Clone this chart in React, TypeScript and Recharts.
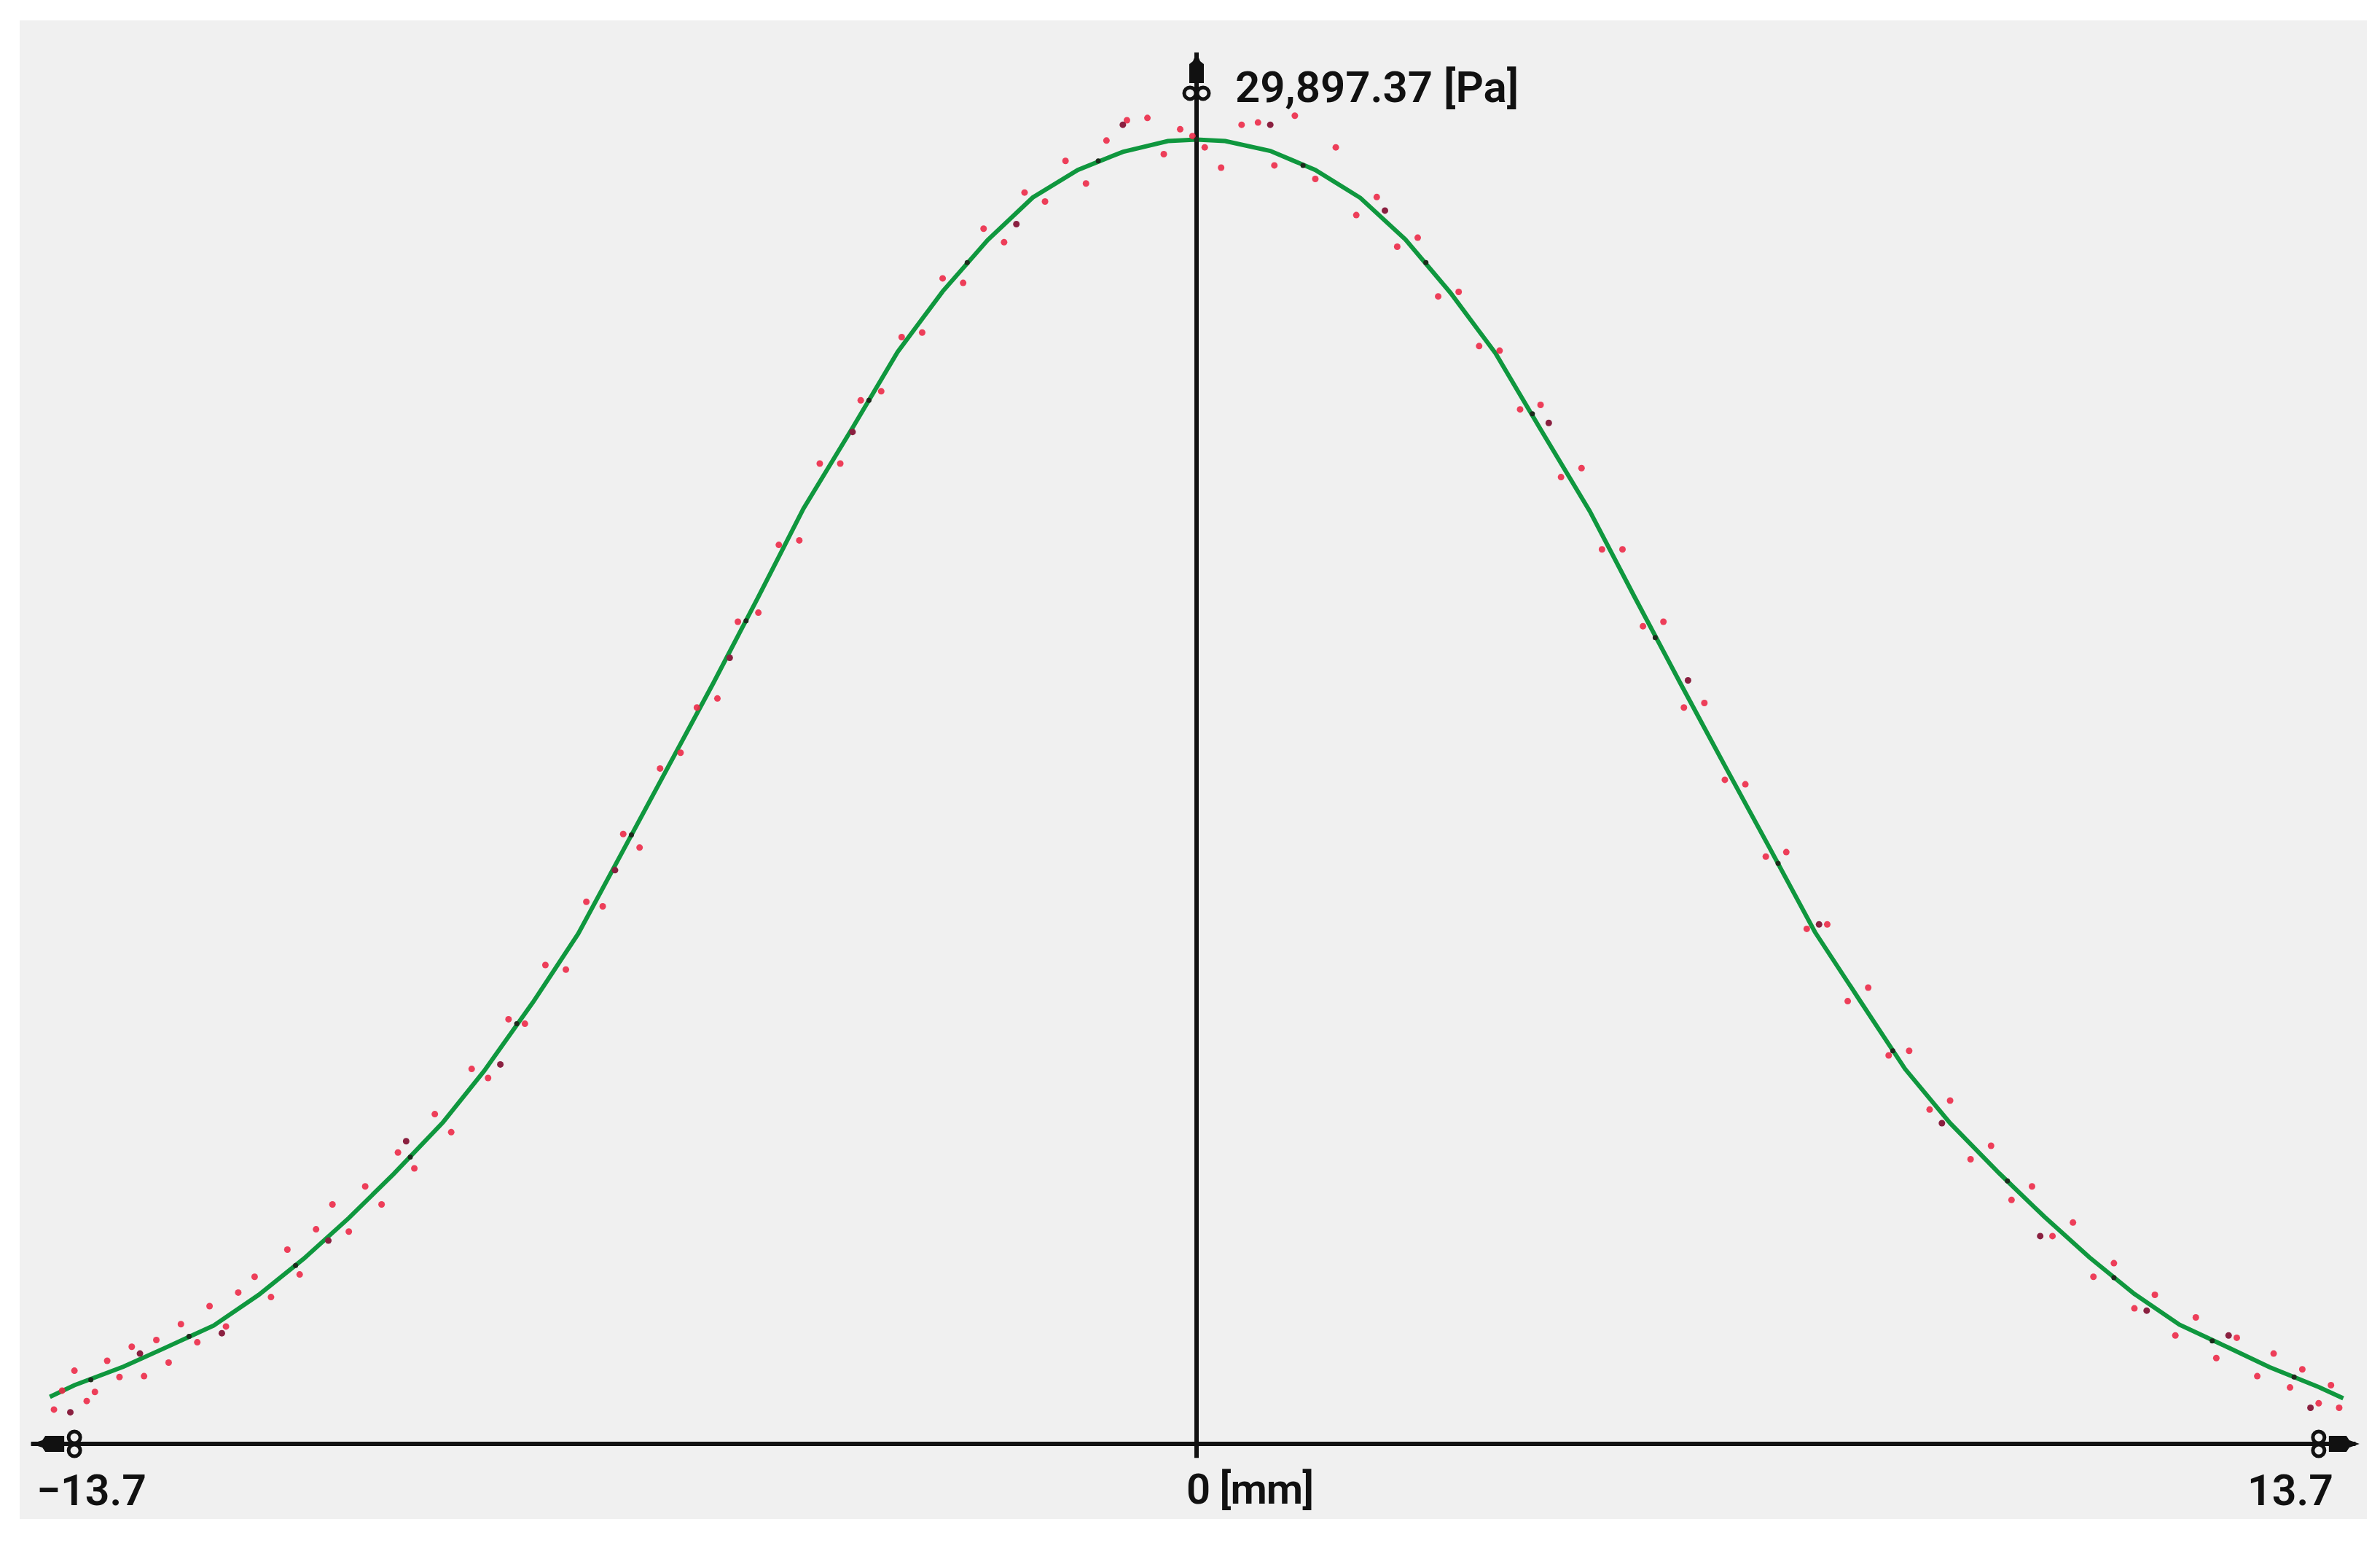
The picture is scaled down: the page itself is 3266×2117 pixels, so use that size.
import React from 'react';
import { ComposedChart, Line, Scatter, XAxis, YAxis, ReferenceLine, ReferenceDot } from 'recharts';

// Pressure profile: x position [mm], pressure [Pa]
const curveX = [
  -14.0, -13.7, -13.1, -12.6, -12.0, -11.45, -10.9, -10.35, -9.8, -9.2, -8.7, -8.1, -7.55, -7.0,
  -6.45, -5.9, -5.35, -4.8, -4.2, -3.65, -3.1, -2.55, -2.0, -1.45, -0.9, -0.35, 0,
  0.35, 0.9, 1.45, 2.0, 2.55, 3.1, 3.65, 4.2, 4.8, 5.35, 5.9, 6.45, 7.0, 7.55, 8.1, 8.65,
  9.2, 9.8, 10.35, 10.9, 11.45, 12.0, 12.6, 13.1, 13.7, 14.0,
];
const curveY = [
  1040, 1300, 1710, 2120, 2620, 3300, 4100, 5000, 5980, 7120, 8250, 9780, 11290, 13140,
  14990, 16840, 18750, 20700, 22490, 24170, 25510, 26650, 27590, 28200, 28600, 28840, 28870,
  28840, 28620, 28200, 27580, 26660, 25480, 24140, 22460, 20650, 18740, 16860, 15010, 13180, 11330, 9810, 8300,
  7100, 5990, 5030, 4130, 3320, 2640, 2130, 1700, 1260, 1010,
];

// measured points scattered around the fitted curve
const redDots: [number, number][] = [
  [-13.95, 760], [-13.85, 1180], [-13.7, 1620], [-13.55, 950], [-13.45, 1150], [-13.3, 1840], [-13.15, 1480],
  [-13.0, 2150], [-12.85, 1500], [-12.7, 2300], [-12.55, 1800], [-12.4, 2650], [-12.2, 2250], [-12.05, 3050],
  [-11.85, 2600], [-11.7, 3350], [-11.5, 3700], [-11.3, 3250], [-11.1, 4300], [-10.95, 3750], [-10.75, 4750],
  [-10.55, 5300], [-10.35, 4700], [-10.15, 5700], [-9.95, 5300], [-9.75, 6450], [-9.55, 6100], [-9.3, 7300],
  [-9.1, 6900], [-8.85, 8300], [-8.65, 8100], [-8.4, 9400], [-8.2, 9300], [-7.95, 10600], [-7.7, 10500],
  [-7.45, 12000], [-7.25, 11900], [-7.0, 13500], [-6.8, 13200], [-6.55, 14950], [-6.3, 15300], [-6.1, 16300],
  [-5.85, 16500], [-5.6, 18200], [-5.35, 18400], [-5.1, 19900], [-4.85, 20000], [-4.6, 21700], [-4.35, 21700],
  [-4.1, 23100], [-3.85, 23300], [-3.6, 24500], [-3.35, 24600], [-3.1, 25800], [-2.85, 25700], [-2.6, 26900],
  [-2.35, 26600], [-2.1, 27700], [-1.85, 27500], [-1.6, 28400], [-1.35, 27900], [-1.1, 28850], [-0.85, 29300],
  [-0.6, 29350], [-0.4, 28550], [-0.2, 29100], [-0.05, 28950],
  [0.1, 28700], [0.3, 28250], [0.55, 29200], [0.75, 29250], [0.95, 28300], [1.2, 29400], [1.45, 28000],
  [1.7, 28700], [1.95, 27200], [2.2, 27600], [2.45, 26500], [2.7, 26700], [2.95, 25400], [3.2, 25500],
  [3.45, 24300], [3.7, 24200], [3.95, 22900], [4.2, 23000], [4.45, 21400], [4.7, 21600], [4.95, 19800],
  [5.2, 19800], [5.45, 18100], [5.7, 18200], [5.95, 16300], [6.2, 16400], [6.45, 14700], [6.7, 14600],
  [6.95, 13000], [7.2, 13100], [7.45, 11400], [7.7, 11500], [7.95, 9800], [8.2, 10100], [8.45, 8600],
  [8.7, 8700], [8.95, 7400], [9.2, 7600], [9.45, 6300], [9.7, 6600], [9.95, 5400], [10.2, 5700], [10.45, 4600],
  [10.7, 4900], [10.95, 3700], [11.2, 4000], [11.45, 3000], [11.7, 3300], [11.95, 2400], [12.2, 2800],
  [12.45, 1900], [12.7, 2350], [12.95, 1500], [13.15, 2000], [13.35, 1250], [13.5, 1650], [13.7, 900],
  [13.85, 1300], [13.95, 800],
];
const darkDots: [number, number][] = [
  [-13.75, 700], [-12.9, 2000], [-11.9, 2450], [-10.6, 4500], [-9.65, 6700], [-8.5, 8400], [-7.1, 12700],
  [-5.7, 17400], [-4.2, 22400], [-2.2, 27000], [-0.9, 29200], [0.9, 29200], [2.3, 27300], [4.3, 22600],
  [6.0, 16900], [7.6, 11500], [9.1, 7100], [10.3, 4600], [11.6, 2950], [12.6, 2400], [13.6, 800],
];
// dark markers sitting on the curve itself
const onCurveDots: [number, number][] = [
  [-13.5, 1420], [-12.3, 2380], [-11.0, 3950], [-9.6, 6350], [-8.3, 9300], [-6.9, 13480], [-5.5, 18220],
  [-4.0, 23100], [-2.8, 26150], [-1.2, 28400], [0, 28870], [1.3, 28300], [2.8, 26150], [4.1, 22800],
  [5.6, 17850], [7.1, 12850], [8.5, 8700], [9.9, 5820], [11.2, 3680], [12.4, 2280], [13.4, 1480],
];

const xMin = -13.7;
const xMax = 13.7;
const peakValue = 29897.37;
const leftLabel = '\u221213.7';
const rightLabel = '13.7';
const xUnitLabel = '0 [mm]';
const yLabel = '29,897.37 [Pa]';

const curveData = curveX.map((x, i) => ({ x, y: curveY[i] }));
const redData = redDots.map(([x, y]) => ({ x, y }));
const darkData = darkDots.map(([x, y]) => ({ x, y }));
const onCurveData = onCurveDots.map(([x, y]) => ({ x, y }));

const FONT = "Roboto, 'Liberation Sans', Arial, sans-serif";
const INK = '#111111';
const BG = '#f0f0f0';

const LeftEnd = (props: any) => {
  const { cx, cy } = props;
  return (
    <g>
      <path
        d={`M${cx - 60},${cy} L${cx - 44},${cy - 5} L${cx - 40},${cy - 11} L${cx - 14},${cy - 11} L${cx - 14},${cy + 11} L${cx - 40},${cy + 11} L${cx - 44},${cy + 5} Z`}
        fill={INK}
      />
      <circle cx={cx} cy={cy - 9} r={8} fill={BG} stroke={INK} strokeWidth={5} />
      <circle cx={cx} cy={cy + 9} r={8} fill={BG} stroke={INK} strokeWidth={5} />
      <text x={cx - 52} y={cy + 84} fontFamily={FONT} fontSize={59} fontWeight={600} fill={INK}>
        {leftLabel}
      </text>
    </g>
  );
};

const RightEnd = (props: any) => {
  const { cx, cy } = props;
  return (
    <g>
      <path
        d={`M${cx + 56},${cy} L${cx + 42},${cy - 5} L${cx + 38},${cy - 11} L${cx + 14},${cy - 11} L${cx + 14},${cy + 11} L${cx + 38},${cy + 11} L${cx + 42},${cy + 5} Z`}
        fill={INK}
      />
      <circle cx={cx} cy={cy - 9} r={8} fill={BG} stroke={INK} strokeWidth={5} />
      <circle cx={cx} cy={cy + 9} r={8} fill={BG} stroke={INK} strokeWidth={5} />
      <text x={cx + 20} y={cy + 84} textAnchor="end" fontFamily={FONT} fontSize={59} fontWeight={600} fill={INK}>
        {rightLabel}
      </text>
    </g>
  );
};

const TopEnd = (props: any) => {
  const { cx, cy } = props;
  return (
    <g>
      <path
        d={`M${cx},${cy - 56} L${cx - 5},${cy - 44} L${cx - 10},${cy - 40} L${cx - 10},${cy - 14} L${cx + 10},${cy - 14} L${cx + 10},${cy - 40} L${cx + 5},${cy - 44} Z`}
        fill={INK}
      />
      <circle cx={cx - 9} cy={cy} r={8} fill={BG} stroke={INK} strokeWidth={5} />
      <circle cx={cx + 9} cy={cy} r={8} fill={BG} stroke={INK} strokeWidth={5} />
      <text x={cx + 53} y={cy + 12} fontFamily={FONT} fontSize={60} fontWeight={600} fill={INK}>
        {yLabel}
      </text>
    </g>
  );
};

const Origin = (props: any) => {
  const { cx, cy } = props;
  return (
    <text x={cx - 14} y={cy + 82} fontFamily={FONT} fontSize={58} fontWeight={600} fill={INK} letterSpacing={-1}>
      {xUnitLabel}
    </text>
  );
};

export default function App() {
  return (
    <div style={{ position: 'absolute', left: 0, top: 0, width: 3266, height: 2117, background: '#ffffff' }}>
      <div style={{ position: 'absolute', left: 27, top: 28, width: 3221, height: 2056, background: BG }} />
      <div style={{ position: 'absolute', left: 0, top: 0 }}>
        <ComposedChart
          width={3266}
          height={2117}
          margin={{ left: 34.7, right: 16.7, top: 28.6, bottom: 12 }}
        >
          <XAxis type="number" dataKey="x" domain={[-14.3, 14.3]} allowDataOverflow hide />
          <YAxis type="number" dataKey="y" domain={[-2000, 31500]} allowDataOverflow hide />
          <Scatter data={redData} fill="#ec2a48" isAnimationActive={false} shape={(p: any) => <circle cx={p.cx} cy={p.cy} r={4.5} fill="#ec2a48" fillOpacity={0.9} />} />
          <Scatter data={darkData} fill="#8a2040" isAnimationActive={false} shape={(p: any) => <circle cx={p.cx} cy={p.cy} r={4.5} fill="#8a2040" />} />
          <Line data={curveData} dataKey="y" type="linear" stroke="#0f973e" strokeWidth={6} dot={false} isAnimationActive={false} />
          <Scatter data={onCurveData} fill="#1a2a1a" isAnimationActive={false} shape={(p: any) => <circle cx={p.cx} cy={p.cy} r={3.5} fill="#1c2b1c" />} />
          <ReferenceLine segment={[{ x: -14.23, y: 0 }, { x: 14.15, y: 0 }]} stroke={INK} strokeWidth={6} />
          <ReferenceLine segment={[{ x: 0, y: -310 }, { x: 0, y: 30800 }]} stroke={INK} strokeWidth={6} />
          <ReferenceDot x={xMin} y={0} r={8} shape={LeftEnd} />
          <ReferenceDot x={xMax} y={0} r={8} shape={RightEnd} />
          <ReferenceDot x={0} y={peakValue} r={8} shape={TopEnd} />
          <ReferenceDot x={0} y={0} r={8} shape={Origin} />
        </ComposedChart>
      </div>
    </div>
  );
}
